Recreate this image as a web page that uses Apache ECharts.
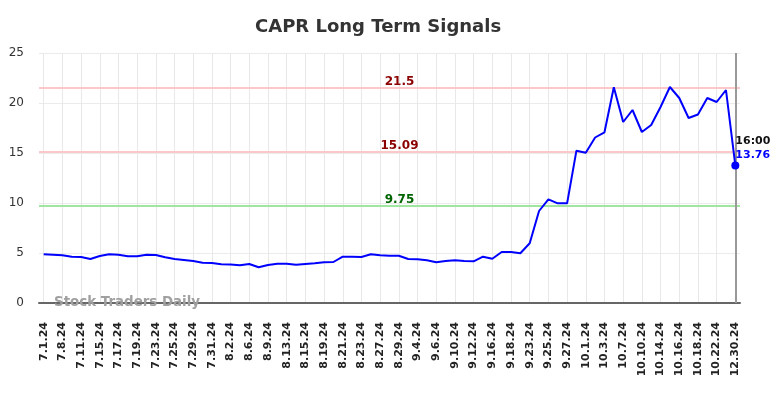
<!DOCTYPE html>
<html>
<head>
<meta charset="utf-8">
<script src="https://cdn.jsdelivr.net/npm/echarts@6/dist/echarts.min.js"></script>
<style>
  html, body { margin: 0; padding: 0; background: #fff; }
  #chart { width: 784px; height: 398px; }
</style>
</head>
<body>
<div id="chart"></div>
<script>
// trading days shown on the axis (every other one gets a label)
const dates = [
  '7.1.24', '7.5.24', '7.8.24', '7.10.24', '7.11.24', '7.12.24', '7.15.24', '7.16.24',
  '7.17.24', '7.18.24', '7.19.24', '7.22.24', '7.23.24', '7.24.24', '7.25.24', '7.26.24',
  '7.29.24', '7.30.24', '7.31.24', '8.1.24', '8.2.24', '8.5.24', '8.6.24', '8.8.24',
  '8.9.24', '8.12.24', '8.13.24', '8.14.24', '8.15.24', '8.16.24', '8.19.24', '8.20.24',
  '8.21.24', '8.22.24', '8.23.24', '8.26.24', '8.27.24', '8.28.24', '8.29.24', '9.3.24',
  '9.4.24', '9.5.24', '9.6.24', '9.9.24', '9.10.24', '9.11.24', '9.12.24', '9.13.24',
  '9.16.24', '9.17.24', '9.18.24', '9.20.24', '9.23.24', '9.24.24', '9.25.24', '9.26.24',
  '9.27.24', '9.30.24', '10.1.24', '10.2.24', '10.3.24', '10.4.24', '10.7.24', '10.9.24',
  '10.10.24', '10.11.24', '10.14.24', '10.15.24', '10.16.24', '10.17.24', '10.18.24', '10.21.24',
  '10.22.24', '10.23.24', '12.30.24'
];

const prices = [
  4.87, 4.82, 4.77, 4.63, 4.6, 4.4, 4.7, 4.87,
  4.83, 4.67, 4.67, 4.83, 4.8, 4.57, 4.4, 4.3,
  4.2, 4.03, 4.0, 3.87, 3.85, 3.77, 3.9, 3.57,
  3.8, 3.93, 3.93, 3.83, 3.9, 3.97, 4.07, 4.1,
  4.63, 4.63, 4.6, 4.87, 4.77, 4.73, 4.73, 4.4,
  4.37, 4.27, 4.07, 4.2, 4.27, 4.2, 4.17, 4.63,
  4.43, 5.1, 5.1, 4.97, 5.97, 9.2, 10.37, 9.97,
  9.97, 15.23, 15.03, 16.55, 17.07, 21.57, 18.1, 19.3,
  17.1, 17.8, 19.6, 21.6, 20.5, 18.5, 18.85, 20.5,
  20.1, 21.3, 13.76
];

const yTicks = [0, 5, 10, 15, 20, 25];
const redLevels = [21.5, 15.09];
const greenLevel = 9.75;
const lastTime = '16:00';

const chart = echarts.init(document.getElementById('chart'));
const font = 'DejaVu Sans';
const last = prices.length - 1;

function levelLabel(value, color) {
  return {
    position: 'insideMiddleTop',
    formatter: String(value),
    color: color,
    fontWeight: 'bold',
    fontSize: 12,
    offset: [10, 5]
  };
}

chart.setOption({
  animation: false,
  textStyle: { fontFamily: font },
  title: {
    text: 'CAPR Long Term Signals',
    left: 250,
    top: 13,
    textStyle: { fontSize: 18, fontWeight: 'bold', color: '#333', fontFamily: font }
  },
  grid: { left: 39, right: 44, top: 53, bottom: 95 },
  xAxis: {
    type: 'category',
    data: dates,
    boundaryGap: true,
    axisLine: { lineStyle: { color: '#666', width: 2 } },
    axisTick: { show: false },
    axisLabel: {
      interval: 1,
      rotate: 90,
      fontSize: 11,
      fontWeight: 'bold',
      color: '#222',
      margin: 19
    },
    splitLine: {
      show: true,
      interval: 1,
      alignWithLabel: true,
      lineStyle: { color: '#e8e8e8', width: 1 }
    }
  },
  yAxis: {
    type: 'value',
    min: yTicks[0],
    max: yTicks[yTicks.length - 1],
    interval: 5,
    axisLine: { show: false },
    axisTick: { show: false },
    axisLabel: { fontSize: 12, color: '#333', margin: 15 },
    splitLine: { lineStyle: { color: '#ebebeb', width: 1 } }
  },
  graphic: [{
    type: 'text',
    left: 54,
    top: 296,
    style: {
      text: 'Stock Traders Daily',
      fill: '#a0a0a0',
      font: 'bold 13.4px "DejaVu Sans"'
    },
    z: 1
  }],
  series: [{
    type: 'line',
    data: prices,
    showSymbol: false,
    lineStyle: { color: '#0000ff', width: 2 },
    itemStyle: { color: '#0000ff' },
    z: 5,
    markLine: {
      silent: true,
      symbol: 'none',
      data: [
        {
          yAxis: redLevels[0],
          lineStyle: { color: '#ffc8c8', width: 2, type: 'solid' },
          label: levelLabel(redLevels[0], '#8b0000')
        },
        {
          yAxis: redLevels[1],
          lineStyle: { color: '#ffc8c8', width: 2, type: 'solid' },
          label: levelLabel(redLevels[1], '#8b0000')
        },
        {
          yAxis: greenLevel,
          lineStyle: { color: '#a0e6a0', width: 2, type: 'solid' },
          label: levelLabel(greenLevel, '#006400')
        },
        {
          xAxis: last,
          lineStyle: { color: '#999', width: 2, type: 'solid' },
          label: { show: false }
        }
      ]
    },
    markPoint: {
      silent: true,
      symbol: 'circle',
      symbolSize: 8,
      itemStyle: { color: '#0000ff' },
      data: [{ coord: [last, prices[last]] }],
      label: {
        show: true,
        position: [4, -27],
        align: 'left',
        verticalAlign: 'top',
        formatter: '{t|' + lastTime + '}\n{v|' + prices[last].toFixed(2) + '}',
        rich: {
          t: { color: '#111', fontWeight: 'bold', fontSize: 11, lineHeight: 14 },
          v: { color: '#0000ff', fontWeight: 'bold', fontSize: 11, lineHeight: 14 }
        }
      }
    }
  }]
});
</script>
</body>
</html>
